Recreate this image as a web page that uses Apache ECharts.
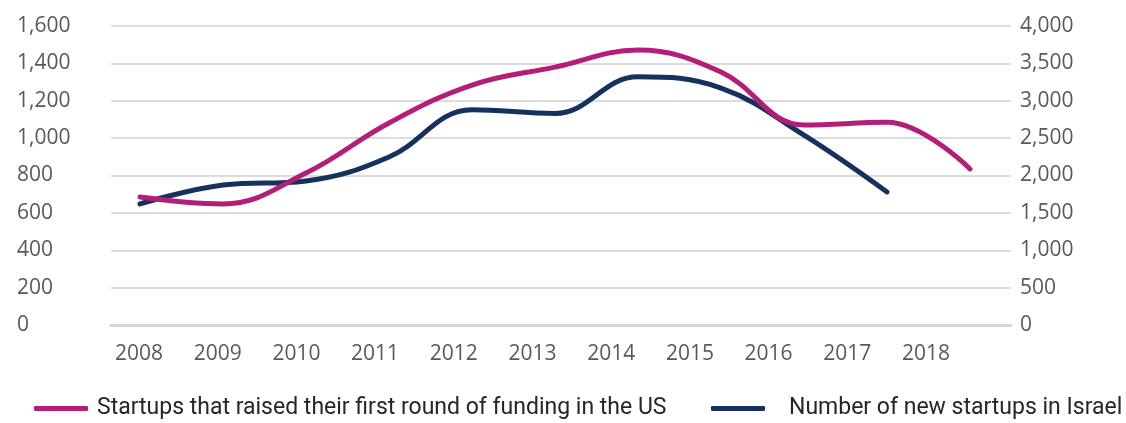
<!DOCTYPE html>
<html>
<head>
<meta charset="utf-8">
<script src="https://cdn.jsdelivr.net/npm/echarts@6/dist/echarts.min.js"></script>
<style>
  html, body { margin: 0; padding: 0; background: #fff; }
  #main { width: 1126px; height: 423px; }
</style>
</head>
<body>
<div id="main"></div>
<script>
var years = ['2008', '2009', '2010', '2011', '2012', '2013', '2014', '2015', '2016', '2017', '2018'];
var usFirstRound = [685, 648, 813, 1081, 1284, 1380, 1471, 1354, 1070, 1085, 835];
var israelNew = [1619, 1873, 1927, 2248, 2880, 2830, 3320, 3170, 2540, 1780];
var leftTicks = { min: 0, max: 1600, interval: 200 };
var rightTicks = { min: 0, max: 4000, interval: 500 };

var usName = 'Startups that raised their first round of funding in the US';
var ilName = 'Number of new startups in Israel';

var myChart = echarts.init(document.getElementById('main'));

var labelFont = { color: '#595959', fontSize: 21, fontFamily: 'Open Sans' };
var hidden = { show: false };
var fmt = function (v) { return v.toLocaleString('en-US'); };

var option = {
    animation: false,
    grid: [
        // gridlines + y labels
        { left: 111, right: 115, top: 26, bottom: 98 },
        // year labels
        { left: 139, right: 200, top: 26, bottom: 98 },
        // lines
        { left: 140, right: 156, top: 26, bottom: 98 }
    ],
    legend: [
        {
            data: [usName], left: 29, top: 392,
            icon: 'roundRect', itemWidth: 54, itemHeight: 5,
            textStyle: { color: '#262626', fontSize: 23, fontFamily: 'Roboto', padding: [0, 0, 0, 4] }
        },
        {
            data: [ilName], left: 706, top: 392,
            icon: 'roundRect', itemWidth: 54, itemHeight: 5,
            textStyle: { color: '#262626', fontSize: 23, fontFamily: 'Roboto', padding: [0, 0, 0, 19] }
        }
    ],
    xAxis: [
        {
            gridIndex: 0, type: 'category', boundaryGap: false, data: years,
            axisLine: { show: true, lineStyle: { color: '#d6d6d6', width: 3 } },
            axisTick: hidden, axisLabel: hidden
        },
        {
            gridIndex: 1, type: 'category', boundaryGap: false, data: years,
            axisLine: hidden, axisTick: hidden,
            axisLabel: Object.assign({ margin: 19 }, labelFont)
        },
        {
            gridIndex: 2, type: 'category', boundaryGap: false, data: years,
            show: false
        }
    ],
    yAxis: [
        {
            gridIndex: 0, type: 'value', position: 'left',
            min: leftTicks.min, max: leftTicks.max, interval: leftTicks.interval,
            axisLine: hidden, axisTick: hidden,
            axisLabel: Object.assign({ align: 'left', margin: 94, formatter: fmt }, labelFont),
            splitLine: { lineStyle: { color: '#dcdcdc', width: 2 } }
        },
        {
            gridIndex: 0, type: 'value', position: 'right',
            min: rightTicks.min, max: rightTicks.max, interval: rightTicks.interval,
            axisLine: hidden, axisTick: hidden,
            axisLabel: Object.assign({ margin: 9, formatter: fmt }, labelFont),
            splitLine: hidden
        },
        { gridIndex: 1, type: 'value', show: false },
        { gridIndex: 2, type: 'value', min: leftTicks.min, max: leftTicks.max, show: false },
        { gridIndex: 2, type: 'value', min: rightTicks.min, max: rightTicks.max, show: false }
    ],
    series: [
        {
            name: ilName, type: 'line', xAxisIndex: 2, yAxisIndex: 4,
            data: israelNew, smooth: 0.4, showSymbol: false,
            lineStyle: { color: '#17315e', width: 5, cap: 'round' },
            itemStyle: { color: '#17315e' }
        },
        {
            name: usName, type: 'line', xAxisIndex: 2, yAxisIndex: 3,
            data: usFirstRound, smooth: 0.4, showSymbol: false,
            lineStyle: { color: '#b31f78', width: 5, cap: 'round' },
            itemStyle: { color: '#b31f78' }
        }
    ]
};

myChart.setOption(option);
</script>
</body>
</html>
